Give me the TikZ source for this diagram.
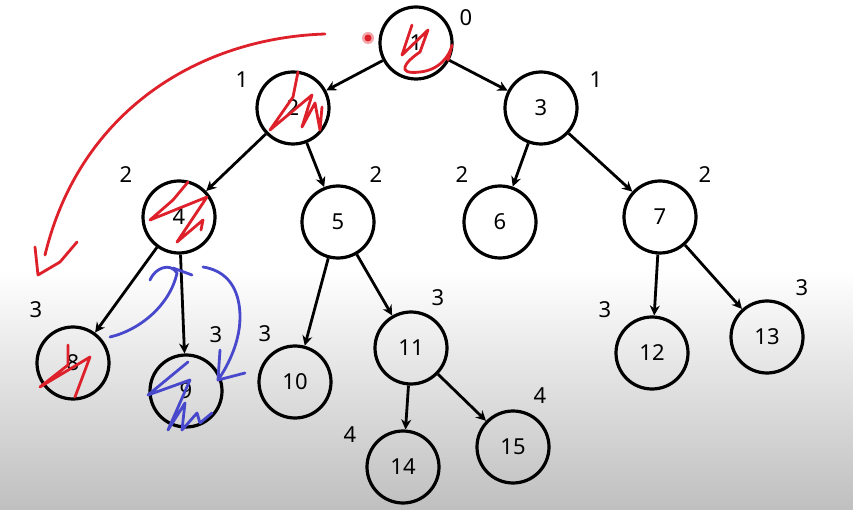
\documentclass[tikz,border=0pt]{standalone}
\usepackage{fontspec}
\setmainfont{Noto Sans}
\usetikzlibrary{arrows.meta}

\definecolor{penred}{RGB}{222,32,42}
\definecolor{penblue}{RGB}{72,72,205}

\begin{document}
\begin{tikzpicture}[x=1pt, y=-1pt,
  vert/.style={circle, draw, line width=3.2pt, minimum size=72pt, inner sep=0pt, font=\fontsize{22}{26}\selectfont},
  depth/.style={font=\fontsize{22}{26}\selectfont},
  ink/.style={line width=2.8pt, line cap=round, line join=round}]

% background
\useasboundingbox (0,0) rectangle (853,510);
\fill[white] (0,0) rectangle (853,270);
\shade[top color=white, bottom color=black!25] (0,270) rectangle (853,510);

% nodes
\node[vert] (n1) at (416,43) {1};
\node[vert] (n2) at (293,108) {2};
\node[vert] (n3) at (541,108) {3};
\node[vert] (n4) at (179,217) {4};
\node[vert] (n5) at (338,222) {5};
\node[vert] (n6) at (500,222) {6};
\node[vert] (n7) at (660,217) {7};
\node[vert] (n8) at (73,363) {8};
\node[vert] (n9) at (186,391) {9};
\node[vert] (n10) at (295,382) {10};
\node[vert] (n11) at (411,348) {11};
\node[vert] (n12) at (652,353) {12};
\node[vert] (n13) at (767,337) {13};
\node[vert] (n14) at (403,467) {14};
\node[vert] (n15) at (513,447) {15};

% depths
\node[depth] (d1) at (466,18) {0};
\node[depth] (d2) at (242,80) {1};
\node[depth] (d3) at (596,80) {1};
\node[depth] (d4) at (126,175) {2};
\node[depth] (d5) at (376,175) {2};
\node[depth] (d6) at (462,175) {2};
\node[depth] (d7) at (705,175) {2};
\node[depth] (d8) at (36,310) {3};
\node[depth] (d9) at (216,335) {3};
\node[depth] (d10) at (265,334) {3};
\node[depth] (d11) at (438,298) {3};
\node[depth] (d12) at (605,310) {3};
\node[depth] (d13) at (802,288) {3};
\node[depth] (d14) at (350,435) {4};
\node[depth] (d15) at (540,396) {4};

% arrows
\path[-{Stealth[length=10pt,width=10pt]}, line width=2.8pt]
  (n1) edge (n2) (n1) edge (n3)
  (n2) edge (n4) (n2) edge (n5)
  (n3) edge (n6) (n3) edge (n7)
  (n4) edge (n8) (n4) edge (n9)
  (n5) edge (n10) (n5) edge (n11)
  (n7) edge (n12) (n7) edge (n13)
  (n11) edge (n14) (n11) edge (n15);

% red scribbles
\fill[penred!40] (368,38) circle (6);
\fill[penred] (368,38) circle (3.5);
\draw[ink, penred] (325,34) .. controls (200,38) and (80,110) .. (45,255);
\draw[ink, penred] (35,247) -- (38,275) -- (60,262) -- (77,242);
\draw[ink, penred] (412,25) -- (402,55) -- (428,30) -- (420,52) .. controls (405,62) and (395,75) .. (420,72) .. controls (440,70) and (450,55) .. (452,45) -- (448,60);
\draw[ink, penred] (298,72) -- (293,97) -- (270,130) -- (312,95) -- (302,127) -- (315,103) -- (320,130) -- (322,107);
\draw[ink, penred] (188,182) -- (173,200) -- (150,220) -- (207,197) -- (177,242) -- (203,220) -- (201,230);
\draw[ink, penred] (68,345) -- (68,365) -- (40,387) -- (90,357) -- (75,397);

% blue scribbles
\draw[ink, penblue] (110,337) .. controls (140,330) and (170,305) .. (177,273) .. controls (170,262) and (155,268) .. (150,280);
\draw[ink, penblue] (173,268) -- (192,275);
\draw[ink, penblue] (203,267) .. controls (235,272) and (240,300) .. (240,317) .. controls (240,345) and (225,370) .. (218,380) -- (220,350);
\draw[ink, penblue] (218,380) -- (245,373);
\draw[ink, penblue] (188,362) -- (148,395) -- (190,380) -- (168,430) -- (185,403) -- (182,430) -- (197,413) -- (200,423) -- (212,413);

\end{tikzpicture}
\end{document}
